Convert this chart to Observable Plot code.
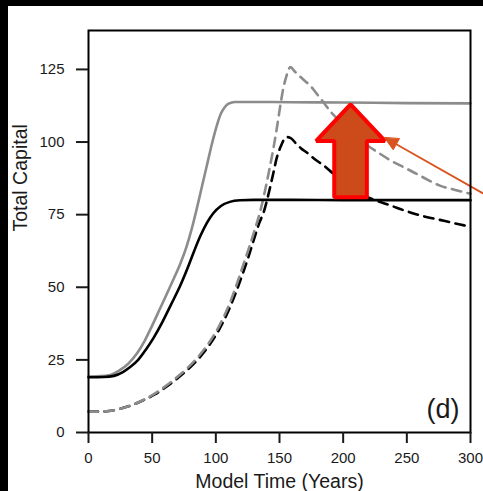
<!DOCTYPE html>
<html><head><meta charset="utf-8">
<script src="https://cdn.jsdelivr.net/npm/d3@7"></script>
<script src="https://cdn.jsdelivr.net/npm/@observablehq/plot@0.6"></script>
<style>
html,body{margin:0;padding:0;background:#000;width:483px;height:491px;overflow:hidden}
#panel{position:absolute;left:8px;top:6px;width:475px;height:485px;background:#fff;overflow:hidden}
</style></head><body><div id="panel"></div>
<script>
// ---- texts & ticks ----
const xTitle = "Model Time (Years)";
const yTitle = "Total Capital";
const panelLabel = "(d)";
const xTicks = [0, 50, 100, 150, 200, 250, 300];
const yTicks = [0, 25, 50, 75, 100, 125];

// ---- series (time in years, total capital) ----
const graySolidT = [0,10,17,24,31,38,44,50,56,62,67,72,77,81,85,89,93,97,101,104,107,110,115,130,160,200,250,300];
const graySolidV = [19.3,19.4,19.8,21.3,23.6,27.2,31.5,36.8,42.5,48.2,53,58,64,70,77,84.5,92,99.5,106,109.8,112,113.2,113.8,113.8,113.7,113.6,113.4,113.3];

const blackSolidT = [0,12,20,27,33,39,45,51,58,65,72,78,83,88,93,98,104,111,119,130,160,200,250,300];
const blackSolidV = [19.0,19.1,19.5,20.8,22.6,25,28.5,32.5,38,44.2,50.5,56.8,62.5,67.8,72.2,75.5,78,79.4,79.95,80.1,80.1,80.0,80.0,80.0];

const grayDashedT = [0,8,16,25,34,43,52,60,68,76,86,96,103,110,116,121,126,130,135,139,142,145.5,148,150.8,153,155.5,158.6,162,166,170,174,178,184,191,200,211,220,227,238,250,263,276,288,300];
const grayDashedV = [7.2,7.2,7.4,8.2,9.4,11.2,13.4,15.8,18.5,21.5,26,31.8,37,43.5,50.5,57,63.5,69,76.4,84,90.5,98.5,105,113,118.5,122.8,125.8,124.3,122.6,121,119.5,117.3,114,110,106.2,101.1,98.5,96.5,93.5,90.8,87.8,85,83.5,82.2];

const blackDashedT = [0,8,16,25,34,43,52,60,68,76,86,96,103,110,116,121,126,131,134,137.7,141.6,145,148,151,153.5,156,159,163,167,171.7,178,184.8,193,203,214,225,237,249,261,280,295,300];
const blackDashedV = [7.2,7.2,7.4,8.2,9.4,11.1,13.1,15.4,18,20.9,25.2,30.8,35.8,42,48.5,54.5,61,68,72,76,82.5,89,94.8,98.5,100.8,101.7,101.3,99.5,97.8,96.3,94,91.9,88.8,85.6,82.2,80,78.2,76.3,74.7,72.8,71.3,70.9];

// ---- annotation: big up arrow (from the black plateau to the gray plateau) ----
const upArrowT = [205.8];
const upArrowFrom = [81];
const upArrowTo = [113];
const upArrowHeadBase = [100.4];
const upArrowShaftHalf = [12.8];
const upArrowHeadHalf = [27];

// ---- annotation: thin pointer ----
const pointerFrom = [320, 79.8];
const pointerTo = [232.5, 101.5];

// ---- build ----
const W = 475, H = 485;
const mL = 80, mR = 13, mT = 24, mB = 59;
const xDomain = [0, 300], yDomain = [0, 138.4];
const rows = (T, V, s) => T.map((t, i) => ({t, v: V[i], s}));

const pxX = (W - mL - mR) / (xDomain[1] - xDomain[0]);
const pxY = (H - mT - mB) / (yDomain[1] - yDomain[0]);

// big arrow polygon
const ax = upArrowT[0], s = upArrowShaftHalf[0], h = upArrowHeadHalf[0];
const bigArrow = [
  {t: ax - s, v: upArrowFrom[0]},
  {t: ax - s, v: upArrowHeadBase[0]},
  {t: ax - h, v: upArrowHeadBase[0]},
  {t: ax, v: upArrowTo[0]},
  {t: ax + h, v: upArrowHeadBase[0]},
  {t: ax + s, v: upArrowHeadBase[0]},
  {t: ax + s, v: upArrowFrom[0]}
];

// pointer head
const dxp = (pointerFrom[0] - pointerTo[0]) * pxX;
const dyp = -(pointerFrom[1] - pointerTo[1]) * pxY;
const len = Math.hypot(dxp, dyp);
const ux = dxp / len, uy = dyp / len;
const headLen = 13.5, headHalfW = 6.3;
const bx = pointerTo[0] + (headLen * ux) / pxX;
const by = pointerTo[1] - (headLen * uy) / pxY;
const head = [
  {t: pointerTo[0], v: pointerTo[1]},
  {t: bx + (-uy * headHalfW) / pxX, v: by - (ux * headHalfW) / pxY},
  {t: bx - (-uy * headHalfW) / pxX, v: by + (ux * headHalfW) / pxY}
];
const pointerLine = [{t: pointerFrom[0], v: pointerFrom[1]}, {t: bx, v: by}];

const grayCol = "#8c8c8c";
const dash = "9.5,6.5";
const lw = 2.6;
const font = "'Liberation Sans', Arial, Helvetica, sans-serif";

const chart = Plot.plot({
  width: W, height: H,
  marginLeft: mL, marginRight: mR, marginTop: mT, marginBottom: mB,
  style: {fontFamily: font, background: "white", color: "#1a1a1a"},
  x: {domain: xDomain},
  y: {domain: yDomain},
  marks: [
    Plot.line(rows(blackDashedT, blackDashedV, "bd"), {x: "t", y: "v", stroke: "black", strokeWidth: lw, strokeDasharray: dash, curve: "monotone-x"}),
    Plot.line(rows(grayDashedT, grayDashedV, "gd"), {x: "t", y: "v", stroke: grayCol, strokeWidth: lw, strokeDasharray: dash, curve: "monotone-x"}),
    Plot.line(rows(graySolidT, graySolidV, "gs"), {x: "t", y: "v", stroke: grayCol, strokeWidth: lw, curve: "monotone-x"}),
    Plot.line(rows(blackSolidT, blackSolidV, "bs"), {x: "t", y: "v", stroke: "black", strokeWidth: lw, curve: "monotone-x"}),
    Plot.line(bigArrow, {x: "t", y: "v", curve: "linear-closed", fill: "#cd4a1b", stroke: "#ff0000", strokeWidth: 4, strokeLinejoin: "miter"}),
    Plot.line(pointerLine, {x: "t", y: "v", stroke: "#d9531e", strokeWidth: 1.8}),
    Plot.line(head, {x: "t", y: "v", curve: "linear-closed", fill: "#d9531e", stroke: "#d9531e", strokeWidth: 1}),
    Plot.frame({stroke: "black", strokeWidth: 2}),
    Plot.axisX({ticks: xTicks, tickSize: 11, tickPadding: 9, fontSize: 15, strokeWidth: 2, label: null, tickFormat: d => String(d)}),
    Plot.axisY({ticks: yTicks, tickSize: 12, tickPadding: 12, fontSize: 15, strokeWidth: 2, label: null, tickFormat: d => String(d)}),
    Plot.text([xTitle], {frameAnchor: "bottom", text: d => d, dy: 55, lineAnchor: "bottom", fontSize: 19.5, fill: "#1a1a1a"}),
    Plot.text([yTitle], {frameAnchor: "left", text: d => d, rotate: -90, dx: -68, lineAnchor: "middle", fontSize: 19.5, fill: "#1a1a1a"}),
    Plot.text([panelLabel], {frameAnchor: "bottom-right", text: d => d, dx: -11, dy: -15, textAnchor: "end", lineAnchor: "bottom", fontSize: 27, fill: "#1a1a1a"})
  ]
});
document.getElementById("panel").appendChild(chart);
</script>
</body></html>
